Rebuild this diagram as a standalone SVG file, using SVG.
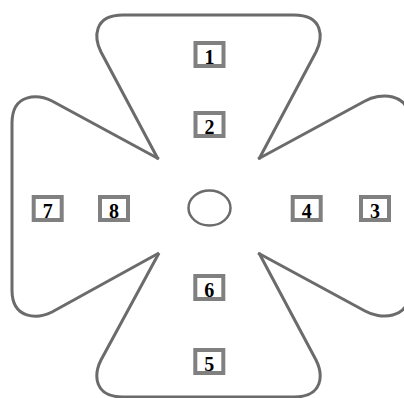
<svg xmlns="http://www.w3.org/2000/svg" width="404" height="398" viewBox="0 0 404 398">
<style>
.petal{fill:none;stroke:#6b6b6b;stroke-width:3;stroke-linejoin:round}
.box rect{fill:#fff;stroke:#808080;stroke-width:4}
.box text{font-family:"Liberation Serif",serif;font-weight:bold;font-size:20px;fill:#000;text-anchor:middle}
</style>
<rect width="404" height="398" fill="#fff"/>
<g id="petals">
<path class="petal" d="M158,159 L101,52 C94,38 93,15 123,15 L294,15 C324,15 323,38 316,52 L259,159"/>
<path class="petal" d="M159,253 L101,360 C94,374 93,397 123,397 L294,397 C324,397 323,374 316,360 L259,253"/>
<path class="petal" d="M159,159 L52,101 C38,94 12,93 12,123 L12,290 C12,320 38,319 52,312 L159,253"/>
<path class="petal" d="M258,159 L365,101 C379,93 410,91 410,123 L410,289 C410,321 379,319 365,311 L258,253"/>
<ellipse cx="209.5" cy="208" rx="21" ry="17.5" fill="none" stroke="#6b6b6b" stroke-width="2.5"/>
</g>
<g id="n1" class="box"><rect x="195.5" y="43" width="28" height="23"/><text x="209.5" y="64">1</text></g>
<g id="n2" class="box"><rect x="195.5" y="113" width="28" height="23"/><text x="209.5" y="134">2</text></g>
<g id="n3" class="box"><rect x="361" y="197" width="28" height="23"/><text x="375" y="218">3</text></g>
<g id="n4" class="box"><rect x="292.7" y="197" width="28" height="23"/><text x="306.7" y="218">4</text></g>
<g id="n5" class="box"><rect x="195.3" y="350" width="28" height="23"/><text x="209.3" y="371">5</text></g>
<g id="n6" class="box"><rect x="195.3" y="276" width="28" height="23"/><text x="209.3" y="297">6</text></g>
<g id="n7" class="box"><rect x="33.7" y="197" width="28" height="23"/><text x="47.7" y="218">7</text></g>
<g id="n8" class="box"><rect x="100" y="197" width="28" height="23"/><text x="114" y="218">8</text></g>
</svg>
